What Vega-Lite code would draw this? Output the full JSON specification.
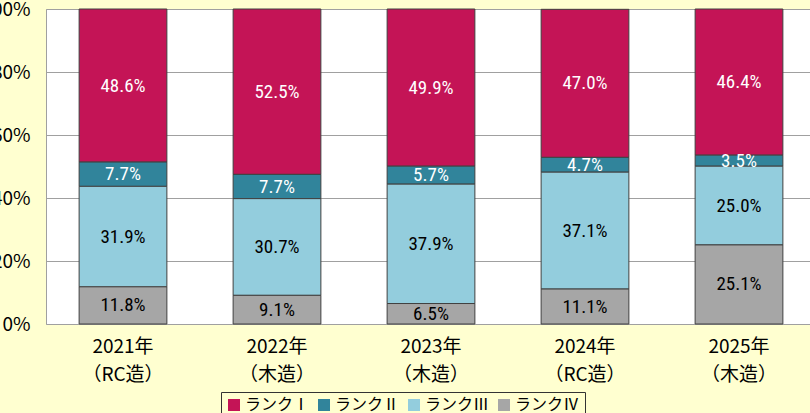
{
  "$schema": "https://vega.github.io/schema/vega-lite/v6.json",
  "autosize": {"type": "none"},
  "width": 764,
  "height": 315,
  "padding": {"left": 46, "top": 9, "right": 0, "bottom": 89},
  "background": "#FFFFD0",
  "config": {
    "view": {"fill": "#FFFFFF", "stroke": "#A0A0A0", "strokeWidth": 1},
    "axis": {"labelFont": "Noto Sans CJK JP", "labelColor": "#000000"}
  },
  "data": {
    "values": [
      {"x": "2021年\n（RC造）", "rank": "ランクⅠ", "v": 0.486},
      {"x": "2021年\n（RC造）", "rank": "ランクⅡ", "v": 0.077},
      {"x": "2021年\n（RC造）", "rank": "ランクⅢ", "v": 0.319},
      {"x": "2021年\n（RC造）", "rank": "ランクⅣ", "v": 0.118},
      {"x": "2022年\n（木造）", "rank": "ランクⅠ", "v": 0.525},
      {"x": "2022年\n（木造）", "rank": "ランクⅡ", "v": 0.077},
      {"x": "2022年\n（木造）", "rank": "ランクⅢ", "v": 0.307},
      {"x": "2022年\n（木造）", "rank": "ランクⅣ", "v": 0.091},
      {"x": "2023年\n（木造）", "rank": "ランクⅠ", "v": 0.499},
      {"x": "2023年\n（木造）", "rank": "ランクⅡ", "v": 0.057},
      {"x": "2023年\n（木造）", "rank": "ランクⅢ", "v": 0.379},
      {"x": "2023年\n（木造）", "rank": "ランクⅣ", "v": 0.065},
      {"x": "2024年\n（RC造）", "rank": "ランクⅠ", "v": 0.470},
      {"x": "2024年\n（RC造）", "rank": "ランクⅡ", "v": 0.047},
      {"x": "2024年\n（RC造）", "rank": "ランクⅢ", "v": 0.371},
      {"x": "2024年\n（RC造）", "rank": "ランクⅣ", "v": 0.111},
      {"x": "2025年\n（木造）", "rank": "ランクⅠ", "v": 0.464},
      {"x": "2025年\n（木造）", "rank": "ランクⅡ", "v": 0.035},
      {"x": "2025年\n（木造）", "rank": "ランクⅢ", "v": 0.250},
      {"x": "2025年\n（木造）", "rank": "ランクⅣ", "v": 0.251}
    ]
  },
  "transform": [
    {"stack": "v", "groupby": ["x"], "sort": [{"field": "rank", "order": "descending"}], "as": ["v0", "v1"]},
    {"calculate": "(datum.v0 + datum.v1) / 2", "as": "mid"}
  ],
  "encoding": {
    "x": {
      "field": "x",
      "type": "nominal",
      "sort": null,
      "scale": {"range": [0, 770], "paddingInner": 0.43, "paddingOuter": 0.215},
      "axis": {
        "title": null,
        "labelAngle": 0,
        "labelExpr": "split(datum.label, '\\n')",
        "labelFontSize": 19,
        "labelLineHeight": 28,
        "labelPadding": 13,
        "ticks": false,
        "domain": false
      }
    }
  },
  "layer": [
    {
      "mark": {"type": "bar", "stroke": "#404040", "strokeWidth": 1},
      "encoding": {
        "y": {
          "field": "v0",
          "type": "quantitative",
          "scale": {"domain": [0, 1], "nice": false},
          "axis": {
            "title": null,
            "values": [0, 0.2, 0.4, 0.6, 0.8, 1],
            "format": "%",
            "labelFontSize": 19,
            "labelPadding": 16,
            "ticks": false,
            "domain": false,
            "gridColor": "#A0A0A0",
            "gridOpacity": 1
          }
        },
        "y2": {"field": "v1"},
        "color": {
          "field": "rank",
          "type": "nominal",
          "scale": {
            "domain": ["ランクⅠ", "ランクⅡ", "ランクⅢ", "ランクⅣ"],
            "range": ["#C41456", "#31849B", "#93CDDD", "#A6A6A6"]
          },
          "legend": {
            "title": null,
            "orient": "none",
            "legendX": 175,
            "legendY": 383,
            "direction": "horizontal",
            "fillColor": "#FFFFD0",
            "strokeColor": "#333333",
            "padding": 5,
            "symbolType": "square",
            "symbolSize": 144,
            "symbolStrokeWidth": 0,
            "labelFont": "Noto Sans CJK JP",
            "labelFontSize": 16,
            "labelColor": "#000000",
            "labelOffset": 3,
            "columnPadding": 6
          }
        }
      }
    },
    {
      "mark": {"type": "text", "font": "Liberation Sans Narrow, Roboto Condensed, DejaVu Sans Condensed, sans-serif", "fontSize": 19, "baseline": "middle", "align": "center"},
      "encoding": {
        "y": {"field": "mid", "type": "quantitative"},
        "text": {"field": "v", "type": "quantitative", "format": ".1%"},
        "color": {
          "condition": {"test": "datum.rank === 'ランクⅠ' || datum.rank === 'ランクⅡ'", "value": "#FFFFFF"},
          "value": "#000000"
        }
      }
    }
  ]
}
